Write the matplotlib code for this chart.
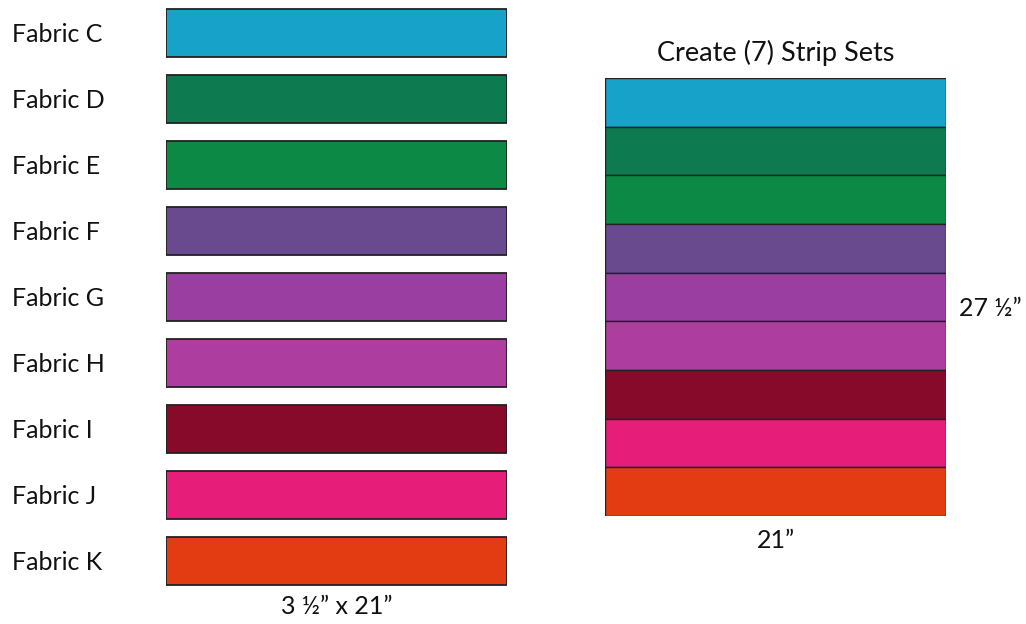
import matplotlib
matplotlib.use("Agg")
import matplotlib.pyplot as plt

fabrics = ["Fabric C", "Fabric D", "Fabric E", "Fabric F", "Fabric G",
           "Fabric H", "Fabric I", "Fabric J", "Fabric K"]
colors = ["#17a2c9", "#0d7a50", "#0c8a45", "#6a4a8e", "#9a3ea2",
          "#ad3e9f", "#880a2a", "#e61e79", "#e33b12"]
strip_width = [21] * 9          # inches
strip_height = [3.5] * 9        # inches
cut_label = "3 \u00bd\u201d x 21\u201d"
set_title = "Create (7) Strip Sets"
set_width_label = "21\u201d"
set_height_label = "27 \u00bd\u201d"

plt.rcParams['font.family'] = ['Lato', 'DejaVu Sans']
W, H = 1026, 624
fig = plt.figure(figsize=(W / 100, H / 100), dpi=100)
FS = 18

def px_axes(x0, y0, x1, y1):
    return fig.add_axes([x0 / W, 1 - y1 / H, (x1 - x0) / W, (y1 - y0) / H])

# Left panel: separate strips
ax = px_axes(166, 0, 507, 594)
ypos = list(range(len(fabrics)))
ax.barh(ypos, strip_width, height=0.742, color=colors,
        edgecolor="#222222", linewidth=1.3)
ax.set_xlim(0, 21)
ax.set_ylim(len(fabrics) - 0.5, -0.5)
ax.axis("off")
for i, name in enumerate(fabrics):
    ax.text(-154 / 341 * 21, i + 2 / 66, name, ha="left", va="center",
            fontsize=FS, color="#111111")
ax.text(10.5, 8.5 + 12 / 66, cut_label, ha="center", va="center",
        fontsize=FS, color="#111111")

# Right panel: sewn strip set
ax2 = px_axes(605, 78, 946, 516)
bottoms = []
acc = 0
for h in strip_height:
    bottoms.append(acc + h / 2)
    acc += h
ax2.barh(bottoms, strip_width, height=strip_height, color=colors,
         edgecolor="#222222", linewidth=1.0)
ax2.set_xlim(0, 21)
ax2.set_ylim(acc, 0)
ax2.axis("off")
ax2.text(10.5, -25 / 438 * acc, set_title, ha="center", va="center",
         fontsize=19.5, color="#111111")
ax2.text(10.5, acc + 24 / 438 * acc, set_width_label, ha="center",
         va="center", fontsize=FS, color="#111111")
ax2.text(21 + 13 / 341 * 21, 230 / 438 * acc, set_height_label, ha="left",
         va="center", fontsize=FS, color="#111111")

fig.savefig("out.png", dpi=100)
